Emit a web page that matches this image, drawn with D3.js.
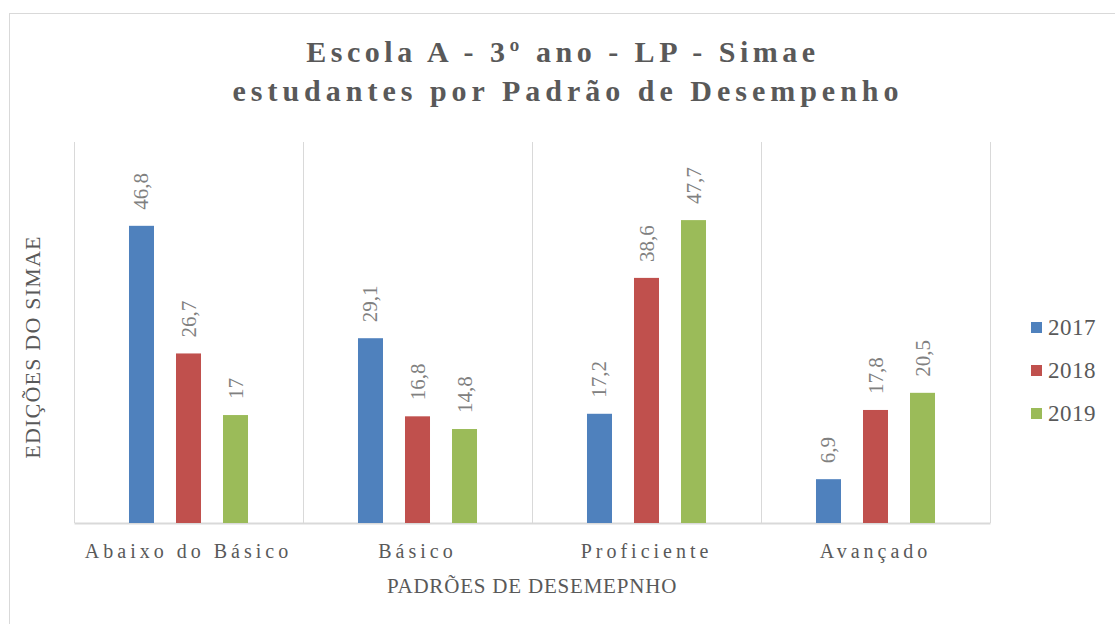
<html lang="pt"><head>
<meta charset="utf-8">
<title>Escola A - Simae</title>
<script src="https://cdn.jsdelivr.net/npm/d3@7"></script>
<style>
  body { margin: 0; background: #fff; }
  text { font-family: "Liberation Serif", "DejaVu Serif", serif; fill: #595959; }
</style>
</head>
<body>
<script>
// dados
var categorias = ["Abaixo do Básico", "Básico", "Proficiente", "Avançado"];
var anos = ["2017", "2018", "2019"];
var v2017 = [46.8, 29.1, 17.2, 6.9];
var v2018 = [26.7, 16.8, 38.6, 17.8];
var v2019 = [17, 14.8, 47.7, 20.5];
var cores = ["#4f81bd", "#c0504d", "#9bbb59"];

var series = [v2017, v2018, v2019];

var w = 1115, h = 624;
// margens da área do gráfico (não usar "top", é window.top)
var pxEsq = 74, pxDir = 990, pyTopo = 142, pyBase = 523;

var svg = d3.select("body").append("svg")
  .attr("width", w).attr("height", h);

// borda do gráfico
svg.append("rect")
  .attr("x", 9.5).attr("y", 13.5)
  .attr("width", w + 10).attr("height", h)
  .attr("fill", "none").attr("stroke", "#d9d9d9");

var x0 = d3.scaleBand().domain(categorias).range([pxEsq, pxDir]);
var x1 = d3.scaleBand().domain(anos).range([0, x0.bandwidth()]).paddingInner(0.468).paddingOuter(1.17);
var y = d3.scaleLinear().domain([0, 60]).range([pyBase, pyTopo]);

// linhas verticais entre categorias
svg.selectAll(".grade")
  .data(d3.range(categorias.length + 1))
  .enter().append("line")
  .attr("x1", function(i) { return Math.round(pxEsq + i * x0.step()) + 0.5; })
  .attr("x2", function(i) { return Math.round(pxEsq + i * x0.step()) + 0.5; })
  .attr("y1", pyTopo).attr("y2", pyBase)
  .attr("stroke", "#d9d9d9");

// eixo x
var eixo = svg.append("g")
  .attr("transform", "translate(0," + pyBase + ")")
  .call(d3.axisBottom(x0).tickSize(0).tickPadding(0));
eixo.select(".domain").attr("stroke", "#d9d9d9").attr("stroke-width", 2);
eixo.selectAll("text")
  .attr("y", 35)
  .attr("dy", 0)
  .style("font-size", "20px")
  .style("letter-spacing", "4px")
  .style("font-family", "Liberation Serif, serif")
  .attr("fill", "#595959");

// barras
series.forEach(function(vals, s) {
  var g = svg.append("g");
  g.selectAll("rect")
    .data(vals)
    .enter().append("rect")
    .attr("x", function(d, i) { return x0(categorias[i]) + x1(anos[s]); })
    .attr("y", function(d) { return y(d); })
    .attr("width", x1.bandwidth())
    .attr("height", function(d) { return y(0) - y(d); })
    .attr("fill", cores[s]);

  g.selectAll("text")
    .data(vals)
    .enter().append("text")
    .attr("transform", function(d, i) {
      var cx = x0(categorias[i]) + x1(anos[s]) + x1.bandwidth() / 2 + 7;
      return "translate(" + cx + "," + (y(d) - 16) + ") rotate(-90)";
    })
    .style("font-size", "21px")
    .style("fill", "#808080")
    .text(function(d) { return String(d).replace(".", ","); });
});

// título
svg.append("text")
  .attr("x", 563).attr("y", 62)
  .attr("text-anchor", "middle")
  .style("font-size", "30px").style("font-weight", "bold")
  .style("letter-spacing", "4.5px")
  .text("Escola A - 3º ano - LP - Simae");
svg.append("text")
  .attr("x", 568).attr("y", 101)
  .attr("text-anchor", "middle")
  .style("font-size", "30px").style("font-weight", "bold")
  .style("letter-spacing", "5px")
  .text("estudantes por Padrão de Desempenho");

// títulos dos eixos
svg.append("text")
  .attr("transform", "translate(40," + 347 + ") rotate(-90)")
  .attr("text-anchor", "middle")
  .style("font-size", "22px")
  .style("letter-spacing", "1.2px")
  .text("EDIÇÕES DO SIMAE");
svg.append("text")
  .attr("x", 532).attr("y", 593)
  .attr("text-anchor", "middle")
  .style("font-size", "21px")
  .style("letter-spacing", "0.8px")
  .text("PADRÕES DE DESEMEPNHO");

// legenda
var leg = svg.selectAll(".leg").data(anos).enter().append("g")
  .attr("transform", function(d, i) { return "translate(1031," + (322 + i * 43) + ")"; });
leg.append("rect").attr("width", 11).attr("height", 11)
  .attr("fill", function(d, i) { return cores[i]; });
leg.append("text").attr("x", 17).attr("y", 13)
  .style("font-size", "23px")
  .style("letter-spacing", "0.5px")
  .text(function(d) { return d; });
</script>
</body></html>
